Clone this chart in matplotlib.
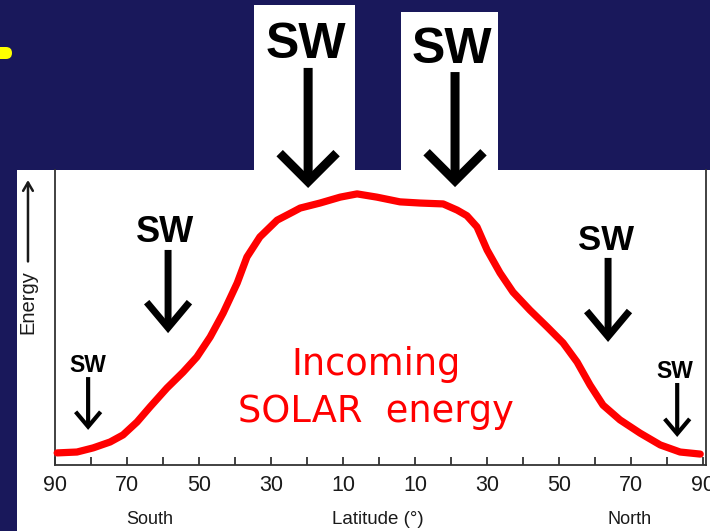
import numpy as np
import matplotlib.pyplot as plt
from matplotlib.patches import Rectangle, FancyBboxPatch

# incoming solar energy vs latitude (south negative)
lat = [-89.4, -83.9, -79.4, -74.7, -71.1, -67.2, -63.6, -58.9, -54.4, -50.6, -46.9,
       -43.3, -39.4, -36.7, -33.1, -28.3, -23.9, -21.9, -16.4, -10.8, -6.1, -0.6,
       5.8, 11.4, 17.8, 21.7, 24.4, 27.2, 30.0, 33.6, 37.2, 41.9, 46.7, 51.1, 55.0,
       58.6, 62.2, 66.9, 72.5, 78.1, 83.6, 89.2]
energy = [4.1, 4.4, 5.8, 7.8, 10.2, 14.6, 19.7, 26.1, 31.5, 36.6, 43.4,
          51.5, 61.7, 70.5, 77.3, 83.0, 85.8, 87.1, 88.8, 90.8, 91.9, 90.8,
          89.2, 88.8, 88.5, 86.4, 84.5, 80.7, 72.9, 65.1, 58.6, 52.5, 46.8, 41.4, 34.9,
          27.1, 20.3, 15.3, 10.8, 6.8, 4.4, 3.7]

major_ticks = [-90, -70, -50, -30, -10, 10, 30, 50, 70, 90]
minor_ticks = [-80, -60, -40, -20, 0, 20, 40, 60, 80]

# SW arrows: latitude, shaft top, tip, label baseline, label font size
sw_lat = [-20.4, 20.3, -59.4, -81.0, 63.1, 82.1]
arrow_lat = [-19.7, 21.1, -58.6, -80.8, 63.6, 82.8]
arrow_top = [134.6, 133.2, 72.9, 29.8, 70.2, 27.8]
arrow_tip = [93.9, 94.2, 44.7, 11.9, 41.7, 9.5]
sw_base = [138.0, 136.3, 75.6, 31.5, 72.9, 29.5]
sw_size = [36, 36, 26, 16.5, 25, 16.5]
arrow_lw = [6.5, 6.5, 5, 3, 5, 3]
head_len = [2.05, 2.05, 1.84, 1.07, 1.84, 1.07]
head_wid = [2.05, 2.05, 1.54, 0.90, 1.54, 0.90]

navy = '#19185b'

fig = plt.figure(figsize=(7.1, 5.31), dpi=100, facecolor=navy)

# white panel and the two boxes behind the top arrows
fig.patches.append(Rectangle((17 / 710, 0), 1, (531 - 170) / 531, zorder=-10,
                             transform=fig.transFigure, facecolor='white', edgecolor='none'))
fig.patches.append(Rectangle((254 / 710, (531 - 171) / 531), 101 / 710, 166 / 531, zorder=-10,
                             transform=fig.transFigure, facecolor='white', edgecolor='none'))
fig.patches.append(Rectangle((401 / 710, (531 - 171) / 531), 97 / 710, 159 / 531, zorder=-10,
                             transform=fig.transFigure, facecolor='white', edgecolor='none'))
# yellow bullet
fig.patches.append(FancyBboxPatch((-0.1, 4.72), 0.22, 0.12, zorder=-10,
                                  boxstyle='round,pad=0,rounding_size=0.06',
                                  transform=fig.dpi_scale_trans, facecolor='#ffff00',
                                  edgecolor='none'))

ax = fig.add_axes([55 / 710, (531 - 465) / 531, (706 - 55) / 710, (465 - 170) / 531])
ax.set_facecolor('none')
ax.set_xlim(-90, 90.8)
ax.set_ylim(0, 100)

ax.plot(lat, energy, color='#ff0000', lw=5.2, solid_capstyle='round',
        solid_joinstyle='round', clip_on=False, zorder=3)

for s in ['left', 'right', 'bottom']:
    ax.spines[s].set_color('#333333')
    ax.spines[s].set_linewidth(1.3)
ax.spines['top'].set_visible(False)

ax.set_xticks(major_ticks)
ax.set_xticks(minor_ticks, minor=True)
ax.set_xticklabels([str(abs(t)) for t in major_ticks])
ax.set_yticks([])
ax.tick_params(axis='x', which='both', direction='in', length=6, width=1.3,
               color='#333333', pad=7)
for lab in ax.get_xticklabels():
    lab.set_fontfamily('Liberation Sans')
    lab.set_fontsize(15.5)
    lab.set_color('#1a1a1a')

# axis captions
ax.text(-63.6, -18.5, 'South', ha='center', va='center', fontsize=13,
        family='Liberation Sans', color='#1a1a1a', clip_on=False)
ax.text(-0.3, -18.5, 'Latitude (°)', ha='center', va='center', fontsize=13.5,
        family='Liberation Sans', color='#1a1a1a', clip_on=False)
ax.text(69.7, -18.5, 'North', ha='center', va='center', fontsize=13,
        family='Liberation Sans', color='#1a1a1a', clip_on=False)
ax.text(-0.0415, 0.553, 'Energy', rotation=90, ha='center', va='center', fontsize=14.5,
        family='Liberation Sans', color='#1a1a1a', transform=ax.transAxes, clip_on=False)
ax.annotate('', xy=(-0.0415, 0.966), xytext=(-0.0415, 0.69), xycoords='axes fraction',
            arrowprops=dict(arrowstyle='->,head_length=0.6,head_width=0.35', lw=1.8,
                            color='#1a1a1a', shrinkA=0, shrinkB=0, mutation_scale=10),
            annotation_clip=False)

# SW arrows
for i in range(len(sw_lat)):
    ax.annotate('', xy=(arrow_lat[i], arrow_tip[i]), xytext=(arrow_lat[i], arrow_top[i]),
                arrowprops=dict(arrowstyle=f'->,head_length={head_len[i]},head_width={head_wid[i]}',
                                lw=arrow_lw[i], color='black', shrinkA=0, shrinkB=0,
                                mutation_scale=10, joinstyle='miter', capstyle='butt'),
                annotation_clip=False, zorder=4)
    ax.text(sw_lat[i], sw_base[i], 'SW', ha='center', va='baseline', fontsize=sw_size[i],
            fontweight='bold', family='Liberation Sans', color='black', clip_on=False,
            zorder=4)

# label for the curve
ax.text(-0.8, 30.5, 'Incoming', ha='center', va='baseline', fontsize=26.5,
        family='DejaVu Sans', color='#ff0000')
ax.text(-0.8, 14.6, 'SOLAR  energy', ha='center', va='baseline', fontsize=26.5,
        family='DejaVu Sans', color='#ff0000')

fig.savefig('out.png', dpi=100, facecolor=navy)
